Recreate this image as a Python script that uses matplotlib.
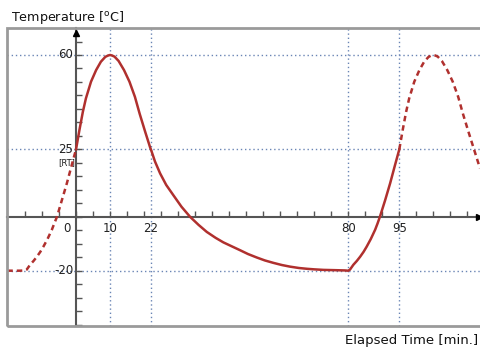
import numpy as np
import matplotlib.pyplot as plt
from matplotlib.patches import Rectangle

# one cycle of the temperature profile (solid)
solid_t = [0, 1.0, 2.0, 2.9, 4.4, 5.9, 7.3, 8.6, 9.4, 10, 10.6, 11.3, 12.5, 14.1,
           15.7, 17.3, 18.7, 20.3, 21.8, 22,
           23.2, 24.7, 26.5, 28.6, 31, 33.5, 36, 38.4, 41, 43.3, 46, 48.2, 50.5,
           53.1, 55.5, 58.0, 60.5, 62.9, 65.5, 67.9, 70, 72.7, 76, 79, 80,
           80.5, 81.5, 82.5, 83.5, 84.5, 85.4, 86.6, 87.9, 88.6, 89.3, 90.8,
           92.3, 93.7, 95]
solid_T = [25, 32.2, 38.9, 43.9, 50.1, 54.4, 57.5, 59.3, 59.8, 60, 59.8, 59.4, 57.8, 54.4,
           50.1, 44.5, 38.2, 31.6, 25.6, 25,
           20.5, 16.1, 11.8, 8.0, 3.7, 0, -3.0, -5.6, -7.8, -9.5, -11.1, -12.4, -13.8,
           -15.1, -16.2, -17.1, -17.9, -18.5, -19.0, -19.3, -19.5, -19.7, -19.8, -19.9, -20,
           -19.6, -17.8, -16.4, -14.8, -13.0, -11.1, -8.3, -4.8, -2.5, 0, 6.0,
           12.4, 19.0, 25]

# previous cycle (dashed, left)
prev_t = [-20.2, -16.5, -15, -14.5, -13.5, -12.5, -11.5, -10.5, -9.6, -8.4,
          -7.1, -6.4, -5.6, -4.2, -2.7, -1.3, 0]
prev_T = [-20, -20, -19.9, -19.6, -17.8, -16.4, -14.8, -13.0, -11.1, -8.3,
          -4.8, -2.5, 0, 6.0, 12.4, 19.0, 25]

# next cycle (dashed, right)
next_t = [95, 96.0, 97.0, 97.9, 99.4, 100.9, 102.3, 103.6, 104.4, 105, 105.6, 106.3,
          107.5, 109.1, 110.7, 112.3, 113.7, 115.3, 116.8, 118.7]
next_T = [25, 32.2, 38.9, 43.9, 50.1, 54.4, 57.5, 59.3, 59.8, 60, 59.8, 59.4,
          57.8, 54.4, 50.1, 44.5, 38.2, 31.6, 25.6, 18.0]

time_marks = [10, 22, 80, 95]
temp_marks = [60, 25, -20]

red = "#b0302e"
grid_c = "#6a85b5"
axis_c = "#555555"

fig = plt.figure(figsize=(4.81, 3.51), dpi=100)
W, H = 481, 351
ax = fig.add_axes([7.3 / W, (H - 325.7) / H, (482 - 7.3) / W, (325.7 - 28.3) / H])
ax.set_xlim(-20.2, 119.3)
ax.set_ylim(-40.4, 69.9)

# outer frame
ax.add_patch(Rectangle((0, 0), 1, 1, transform=ax.transAxes, fill=False,
                       edgecolor="#9a9a9a", lw=2, clip_on=False, zorder=5))

# axes through the origin
ax.spines["right"].set_visible(False)
ax.spines["top"].set_visible(False)
ax.spines["left"].set_position(("data", 0))
ax.spines["bottom"].set_position(("data", 0))
for s in ["left", "bottom"]:
    ax.spines[s].set_color(axis_c)
    ax.spines[s].set_linewidth(1.5)
    ax.spines[s].set_zorder(3)

ax.set_xticks(np.arange(-15, 120, 5))
ax.set_yticks(np.arange(-40, 70, 5))
ax.tick_params(direction="in", length=4, width=1, color=axis_c,
               labelbottom=False, labelleft=False)
ax.plot(118.3, 0, ">", color="black", ms=5, clip_on=False, zorder=4)
ax.plot(0, 68.2, "^", color="black", ms=5, clip_on=False, zorder=4)

# dotted guide lines
for t in time_marks:
    ax.axvline(t, color=grid_c, lw=1, ls=(0, (1, 2)), zorder=1)
for T in temp_marks:
    ax.axhline(T, color=grid_c, lw=1, ls=(0, (1, 2)), zorder=1)

ax.plot(solid_t, solid_T, color=red, lw=1.8, zorder=4, solid_joinstyle="round")
ax.plot(prev_t, prev_T, color=red, lw=1.8, ls=(0, (2.2, 1.6)), zorder=4)
ax.plot(next_t, next_T, color=red, lw=1.8, ls=(0, (2.2, 1.6)), zorder=4)

# labels
fs = 8.5
for t in time_marks:
    ax.annotate(str(t), (t, 0), xytext=(0, -4), textcoords="offset points",
                ha="center", va="top", fontsize=fs, color="#222222")
ax.annotate("0", (0, 0), xytext=(-6.5, -4), textcoords="offset points",
            ha="center", va="top", fontsize=fs, color="#222222")
for T in temp_marks:
    ax.annotate(str(T), (0, T), xytext=(-2, 0), textcoords="offset points",
                ha="right", va="center", fontsize=fs, color="#222222")
ax.annotate("[RT]", (0, 25), xytext=(-1, -6), textcoords="offset points",
            ha="right", va="top", fontsize=6, color="#222222")

fig.text(11 / W, 1 - 20.5 / H, "Temperature [$^\\mathrm{o}$C]", fontsize=9.2,
         ha="left", va="baseline", color="#111111")
fig.text(478 / W, 1 - 344 / H, "Elapsed Time [min.]", fontsize=9.5,
         ha="right", va="baseline", color="#111111")

fig.savefig("out.png", dpi=100)
